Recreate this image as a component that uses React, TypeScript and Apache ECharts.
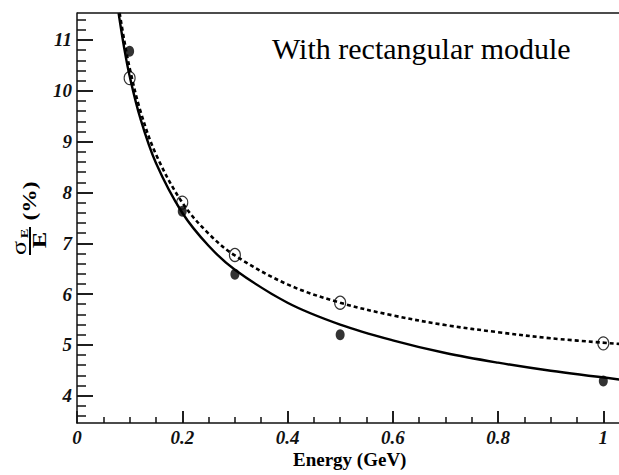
import React, { useEffect, useRef } from 'react';
import * as echarts from 'echarts';

// Measured points (energy in GeV, resolution in %)
const energyPoints = [0.1, 0.2, 0.3, 0.5, 1.0];
const resFilled = [10.78, 7.63, 6.39, 5.2, 4.29];
const resOpen = [10.25, 7.8, 6.77, 5.83, 5.03];

// Fit curves
const solidFitE = [0.079, 0.09, 0.1, 0.12, 0.15, 0.2, 0.25, 0.3, 0.4, 0.5, 0.6, 0.7, 0.8, 0.9, 1.03];
const solidFitRes = [11.53, 10.82, 10.29, 9.47, 8.58, 7.6, 6.95, 6.48, 5.83, 5.4, 5.09, 4.84, 4.65, 4.49, 4.32];
const dashedFitE = [0.081, 0.09, 0.1, 0.12, 0.15, 0.2, 0.25, 0.3, 0.4, 0.5, 0.6, 0.7, 0.8, 0.9, 1.03];
const dashedFitRes = [11.53, 10.98, 10.45, 9.62, 8.75, 7.8, 7.19, 6.76, 6.19, 5.83, 5.58, 5.39, 5.25, 5.13, 5.02];

// Axis ticks
const xMajorTicks = [0.2, 0.4, 0.6, 0.8, 1];
const xMinorTicks = [0.05, 0.1, 0.15, 0.25, 0.3, 0.35, 0.45, 0.5, 0.55, 0.65, 0.7, 0.75, 0.85, 0.9, 0.95];
const yMajorTicks = [4, 5, 6, 7, 8, 9, 10, 11];
const yMinorTicks = [3.6, 3.8, 4.2, 4.4, 4.6, 4.8, 5.2, 5.4, 5.6, 5.8, 6.2, 6.4, 6.6, 6.8, 7.2, 7.4, 7.6, 7.8,
  8.2, 8.4, 8.6, 8.8, 9.2, 9.4, 9.6, 9.8, 10.2, 10.4, 10.6, 10.8, 11.2, 11.4];

const X_MIN = 0;
const X_MAX = 1.0298;
const Y_MIN = 3.463;
const Y_MAX = 11.531;

// plot area in pixels (only used to turn tick lengths into axis units)
const PLOT_W = 542;
const PLOT_H = 410;
const xUnitsPerPx = (X_MAX - X_MIN) / PLOT_W;
const yUnitsPerPx = (Y_MAX - Y_MIN) / PLOT_H;

const SERIF = 'Liberation Serif';
const AX = '#111';

function buildTickLines() {
  const lines: any[] = [];
  xMajorTicks.forEach((v) => lines.push([{ coord: [v, Y_MIN] }, { coord: [v, Y_MIN + 12 * yUnitsPerPx] }]));
  xMinorTicks.forEach((v) => lines.push([{ coord: [v, Y_MIN] }, { coord: [v, Y_MIN + 6 * yUnitsPerPx] }]));
  yMajorTicks.forEach((v) => lines.push([{ coord: [X_MIN, v] }, { coord: [X_MIN + 16 * xUnitsPerPx, v] }]));
  yMinorTicks.forEach((v) => lines.push([{ coord: [X_MIN, v] }, { coord: [X_MIN + 9 * xUnitsPerPx, v] }]));
  lines.push([{ coord: [X_MIN, Y_MAX] }, { coord: [X_MAX, Y_MAX] }]);
  return lines;
}

export default function App() {
  const ref = useRef<HTMLDivElement>(null);

  useEffect(() => {
    if (!ref.current) return;
    const chart = echarts.init(ref.current, undefined, { renderer: 'svg' });

    const labelStyle = { fontFamily: SERIF, fontSize: 19, fontWeight: 'bold', fontStyle: 'italic', color: AX, margin: 5 };

    const option: any = {
      animation: false,
      backgroundColor: '#fff',
      grid: { left: 77, top: 13, right: 0, bottom: 52 },
      xAxis: {
        type: 'value', min: X_MIN, max: X_MAX,
        axisLine: { show: true, lineStyle: { color: AX, width: 1.5 } },
        axisTick: { show: true, inside: true, length: 12, lineStyle: { color: AX, width: 1.5 } },
        axisLabel: { ...labelStyle },
        splitLine: { show: false },
      },
      yAxis: {
        type: 'value', min: Y_MIN, max: Y_MAX, splitNumber: 8,
        axisLine: { show: true, lineStyle: { color: AX, width: 1.5 } },
        axisTick: { show: true, inside: true, length: 16, lineStyle: { color: AX, width: 1.5 } },
        axisLabel: { ...labelStyle, showMinLabel: false, showMaxLabel: false },
        splitLine: { show: false },
      },
      series: [
        {
          type: 'scatter',
          data: energyPoints.map((e, i) => [e, resOpen[i]]),
          symbol: 'circle', symbolSize: [11, 13],
          itemStyle: { color: 'rgba(0,0,0,0)', borderColor: '#000', borderWidth: 1.2 },
          z: 3,
        },
        {
          type: 'scatter',
          data: energyPoints.map((e, i) => [e, resFilled[i]]),
          symbol: 'circle', symbolSize: [9, 11],
          itemStyle: { color: '#000' },
          z: 4,
        },
        {
          type: 'line',
          data: dashedFitE.map((e, i) => [e, dashedFitRes[i]]),
          smooth: 0.35, showSymbol: false, symbol: 'none',
          lineStyle: { color: '#000', width: 2.6, type: [4, 3] },
          z: 2,
        },
        {
          type: 'line',
          data: solidFitE.map((e, i) => [e, solidFitRes[i]]),
          smooth: 0.35, showSymbol: false, symbol: 'none',
          lineStyle: { color: '#000', width: 2.4 },
          z: 2,
          markLine: {
            symbol: 'none', silent: true, label: { show: false },
            lineStyle: { color: AX, width: 1.5, type: 'solid' },
            data: buildTickLines(),
          },
        },
      ],
      graphic: [
        {
          type: 'text', x: 272, y: 33,
          style: { text: 'With rectangular module', fontFamily: SERIF, fontSize: 30, fill: '#000' },
        },
        {
          type: 'text', x: 293, y: 450,
          style: { text: 'Energy (GeV)', fontFamily: SERIF, fontSize: 19, fontWeight: 'bold', fill: '#000' },
        },
        {
          type: 'group', x: 30, y: 217, rotation: Math.PI / 2, scaleX: 1.3,
          children: [
            { type: 'text', x: -23.8, y: -11, style: { text: 'σ', fontFamily: SERIF, fontSize: 20, fill: '#000', align: 'center', verticalAlign: 'middle' } },
            { type: 'text', x: -12.7, y: -5, style: { text: 'E', fontFamily: SERIF, fontSize: 11, fontWeight: 'bold', fill: '#000', align: 'center', verticalAlign: 'middle' } },
            { type: 'line', shape: { x1: -29.2, y1: 0, x2: -7.7, y2: 0 }, style: { stroke: '#000', lineWidth: 2 } },
            { type: 'text', x: -17.7, y: 10, style: { text: 'E', fontFamily: SERIF, fontSize: 19, fontWeight: 'bold', fill: '#000', align: 'center', verticalAlign: 'middle' } },
            { type: 'text', x: 12.3, y: 0, style: { text: '(%)', fontFamily: SERIF, fontSize: 18, fontWeight: 'bold', fill: '#000', align: 'center', verticalAlign: 'middle' } },
          ],
        },
      ],
    };

    try {
      chart.setOption(option);
    } catch (e) {
      // keep whatever was drawn
    }
    return () => chart.dispose();
  }, []);

  return <div ref={ref} style={{ position: 'fixed', left: 0, top: 0, width: 619, height: 475, background: '#fff' }} />;
}
